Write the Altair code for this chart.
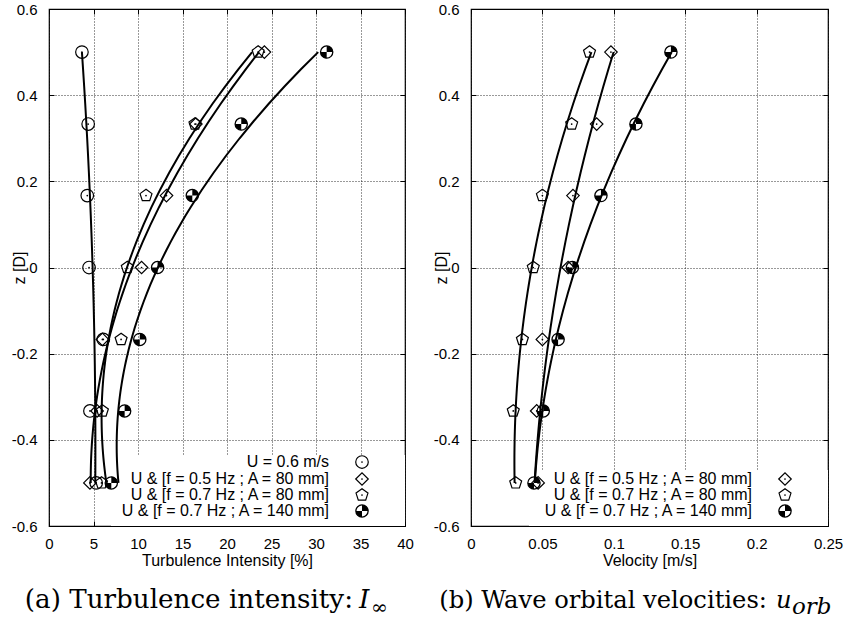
import math
import altair as alt
import pandas as pd

# ---------------- data ----------------
z_levels = [0.5, 0.333, 0.167, 0.0, -0.167, -0.333, -0.5]

series_labels = [
    "U = 0.6 m/s",
    "U & [f = 0.5 Hz ; A = 80 mm]",
    "U & [f = 0.7 Hz ; A = 80 mm]",
    "U & [f = 0.7 Hz ; A = 140 mm]",
]

# panel (a): turbulence intensity [%]
ti_u06 = [3.7, 4.4, 4.3, 4.5, 6.1, 4.6, 5.3]
ti_f05_a80 = [24.2, 16.5, 13.2, 10.4, 6.0, 5.4, 4.6]
ti_f07_a80 = [23.5, 16.4, 10.9, 8.8, 8.1, 6.0, 5.9]
ti_f07_a140 = [31.2, 21.6, 16.1, 12.2, 10.2, 8.5, 7.0]

# panel (b): wave orbital velocity [m/s]
uorb_f05_a80 = [0.098, 0.088, 0.0714, 0.068, 0.050, 0.046, 0.047]
uorb_f07_a80 = [0.083, 0.0705, 0.050, 0.0436, 0.036, 0.0296, 0.0313]
uorb_f07_a140 = [0.140, 0.1155, 0.091, 0.071, 0.061, 0.0506, 0.0441]

ti_ticks = [0, 5, 10, 15, 20, 25, 30, 35, 40]
uorb_ticks = [0, 0.05, 0.1, 0.15, 0.2, 0.25]
z_ticks = [-0.6, -0.4, -0.2, 0, 0.2, 0.4, 0.6]

# ---------------- styling ----------------
FONT = "Liberation Sans"
SERIF = "DejaVu Serif"
FS = 15
FT = 16
H = 517
MSIZE = 150

PENTAGON = "M0,-1L0.951,-0.309L0.588,0.809L-0.588,0.809L-0.951,-0.309Z"


def quad_path(n=10):
    parts = []
    for a0 in (-90, 90):
        pts = ["M0,0"]
        for i in range(n + 1):
            a = math.radians(a0 + 90 * i / n)
            pts.append(f"L{math.cos(a):.3f},{math.sin(a):.3f}")
        pts.append("Z")
        parts.append("".join(pts))
    return "".join(parts)


QUADS = quad_path()
NEG5 = {"expr": "-5"}


def symbol_marks(chart, kind, enc_first, enc_rest):
    """Layers drawing marker `kind`; axes only on the first sub-layer."""
    specs = []
    if kind == 0:
        specs.append(dict(shape="circle", size=MSIZE * 1.05, filled=False, strokeWidth=1.2))
    elif kind == 1:
        specs.append(dict(shape="diamond", size=MSIZE * 1.05, filled=False, strokeWidth=1.2))
    elif kind == 2:
        specs.append(dict(shape=PENTAGON, size=MSIZE * 1.05, filled=False, strokeWidth=1.2))
    else:
        specs.append(dict(shape=QUADS, size=MSIZE, filled=True))
        specs.append(dict(shape="circle", size=MSIZE, filled=False, strokeWidth=1.3))
    if kind != 3:
        specs.append(dict(shape="circle", size=3, filled=True))
    out = []
    for i, s in enumerate(specs):
        out.append(chart.mark_point(color="black", opacity=1, **s).encode(
            **(enc_first if i == 0 else enc_rest)))
    return out


def make_panel(values, kinds, W, xdomain, xticks, xtitle, xlabel_expr,
               legend_rows, box, cap_size, cap_main, cap_var, cap_sub, sub_size):
    rows = []
    for k, vals in zip(kinds, values):
        for z, v in zip(z_levels, vals):
            rows.append({"series": series_labels[k], "z": z, "val": v})
    df = pd.DataFrame(rows)

    xs = alt.Scale(domain=xdomain, nice=False, zero=False)
    ys = alt.Scale(domain=[-0.6, 0.6], nice=False, zero=False)

    main_x = alt.Axis(orient="bottom", values=xticks, labelExpr=xlabel_expr,
                      grid=True, gridColor="black", gridOpacity=0.8, gridDash=[1, 2],
                      ticks=True, tickSize=NEG5, tickColor="black", domain=False,
                      labelFont=FONT, labelFontSize=FS, labelColor="black",
                      labelPadding=15, labelFlush=False, labelOverlap=False,
                      title=xtitle, titleFont=FONT, titleFontSize=FT,
                      titleFontWeight="normal", titleColor="black",
                      titleX=W / 2, titleY=26, titleBaseline="top")
    main_y = alt.Axis(orient="left", values=z_ticks,
                      labelExpr="datum.value == 0 ? '0' : (datum.value < 0 ? '-' : '') + format(abs(datum.value), '.1f')",
                      grid=True, gridColor="black", gridOpacity=0.8, gridDash=[1, 2],
                      ticks=True, tickSize=NEG5, tickColor="black", domain=False,
                      labelFont=FONT, labelFontSize=FS, labelColor="black",
                      labelPadding=17, labelFlush=False, labelOverlap=False,
                      title="z [D]", titleFont=FONT, titleFontSize=FT,
                      titleFontWeight="normal", titleColor="black",
                      titleX=-22, titleY=H / 2, titleAngle=270, titleBaseline="bottom")
    mirror_x = alt.Axis(orient="top", values=xticks, labels=False, grid=False,
                        ticks=True, tickSize=NEG5, tickColor="black", domain=False,
                        title=None)
    mirror_y = alt.Axis(orient="right", values=z_ticks, labels=False, grid=False,
                        ticks=True, tickSize=NEG5, tickColor="black", domain=False,
                        title=None)

    one = pd.DataFrame({"a": [0]})
    layers = []

    # white key background
    layers.append(alt.Chart(one).mark_rect(color="white").encode(
        x=alt.value(box[0]), x2=alt.value(W), y=alt.value(box[1]), y2=alt.value(H)))

    # fitted curves: val = poly(z)
    layers.append(alt.Chart(df).transform_regression(
        "z", "val", groupby=["series"], method="poly", order=2
    ).mark_line(color="black", strokeWidth=2).encode(
        x=alt.X("val:Q", scale=xs, axis=mirror_x),
        y=alt.Y("z:Q", scale=ys, axis=mirror_y),
        detail="series:N", order="z:Q"))

    first = True
    enc_plain = dict(x=alt.X("val:Q", scale=xs, axis=None),
                     y=alt.Y("z:Q", scale=ys, axis=None))
    for k in kinds:
        base = alt.Chart(df).transform_filter(alt.datum.series == series_labels[k])
        if first:
            enc_first = dict(x=alt.X("val:Q", scale=xs, axis=main_x),
                             y=alt.Y("z:Q", scale=ys, axis=main_y))
        else:
            enc_first = enc_plain
        first = False
        layers.extend(symbol_marks(base, k, enc_first, enc_plain))

    # key
    for (k, tx, sx, ry) in legend_rows:
        lab = pd.DataFrame({"label": [series_labels[k]]})
        layers.append(alt.Chart(lab).mark_text(
            align="right", baseline="middle", font=FONT, fontSize=FT, color="black"
        ).encode(x=alt.value(tx), y=alt.value(ry), text="label:N"))
        venc = dict(x=alt.value(sx), y=alt.value(ry))
        layers.extend(symbol_marks(alt.Chart(one), k, venc, venc))

    # caption
    cap = pd.DataFrame({"t": [cap_main[0]], "v": [cap_var[0]], "s": [cap_sub[0]]})
    layers.append(alt.Chart(cap).mark_text(
        align="right", baseline="alphabetic", font=SERIF, fontSize=cap_size, color="black"
    ).encode(x=alt.value(cap_main[1]), y=alt.value(cap_main[2]), text="t:N"))
    layers.append(alt.Chart(cap).mark_text(
        align="left", baseline="alphabetic", font=SERIF, fontSize=cap_size, fontStyle="italic",
        color="black"
    ).encode(x=alt.value(cap_var[1]), y=alt.value(cap_var[2]), text="v:N"))
    layers.append(alt.Chart(cap).mark_text(
        align="left", baseline="alphabetic", font=SERIF, fontSize=sub_size, fontStyle="italic",
        color="black"
    ).encode(x=alt.value(cap_sub[1]), y=alt.value(cap_sub[2]), text="s:N"))

    return alt.layer(*layers).properties(width=W, height=H)


left = make_panel(
    [ti_u06, ti_f05_a80, ti_f07_a80, ti_f07_a140], [0, 1, 2, 3], 356,
    [0, 40], ti_ticks, "Turbulence Intensity [%]", "format(datum.value, 'd')",
    [(0, 280, 313, 453), (1, 280, 313, 470), (2, 280, 313, 486), (3, 280, 313, 502)],
    (62, 446), 26.2,
    ("(a) Turbulence intensity:", 304, 599), ("I", 310, 599), ("∞", 322, 605), 20,
)

right = make_panel(
    [uorb_f05_a80, uorb_f07_a80, uorb_f07_a140], [1, 2, 3], 357,
    [0, 0.25], uorb_ticks, "Velocity [m/s]", "format(datum.value, '~g')",
    [(1, 281, 314, 470), (2, 281, 314, 486), (3, 281, 314, 502)],
    (58, 461), 24.2,
    ("(b) Wave orbital velocities:", 296, 599), ("u", 305, 599), ("orb", 321, 605), 23,
)

chart = alt.hconcat(left, right, spacing=18).properties(
    padding={"left": 10, "top": 1, "right": 0, "bottom": 0},
    background="white",
).configure_view(stroke="black", strokeWidth=1.2)

chart.save("out.html", embed_options={"renderer": "svg", "actions": False})
